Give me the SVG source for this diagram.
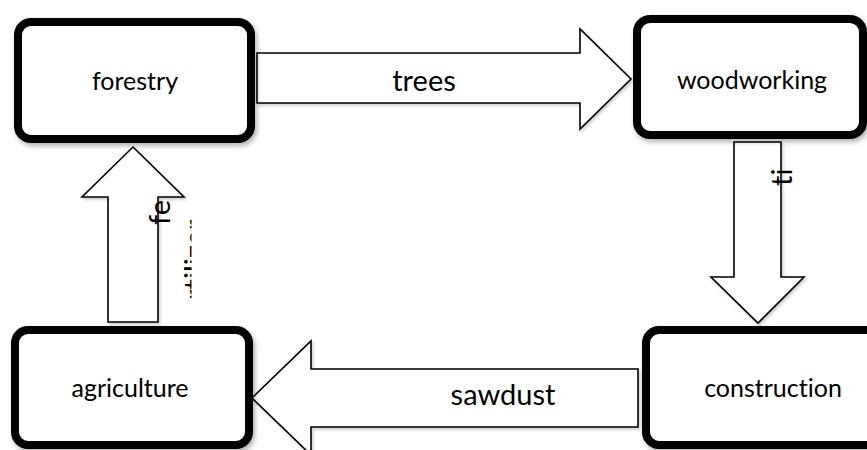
<svg xmlns="http://www.w3.org/2000/svg" width="867" height="450" viewBox="0 0 867 450">
<style>
.box{fill:#fff;stroke:#000;stroke-width:8}
.arrow{fill:#fff;stroke:#000;stroke-width:1.6;stroke-linejoin:miter}
.node{font-family:Lato,"Liberation Sans",sans-serif;font-size:25px;fill:#000;text-anchor:middle;font-variant-ligatures:none;font-feature-settings:"liga" 0,"clig" 0}
.lbl{font-family:Lato,"Liberation Sans",sans-serif;font-size:29px;fill:#000;font-variant-ligatures:none;font-feature-settings:"liga" 0,"clig" 0}
</style>
<defs>
<filter id="sh" x="-10%" y="-10%" width="130%" height="130%">
<feDropShadow dx="2" dy="3" stdDeviation="2.5" flood-color="#000" flood-opacity="0.3"/>
</filter>
<filter id="sha" x="-10%" y="-10%" width="130%" height="130%">
<feDropShadow dx="1.5" dy="2" stdDeviation="1.5" flood-color="#000" flood-opacity="0.2"/>
</filter>
<clipPath id="clipFert"><rect x="182" y="200" width="9.5" height="110"/></clipPath>
</defs>
<rect width="867" height="450" fill="#fff"/>
<g id="connectors">
<g id="c-trees">
<polygon class="arrow" filter="url(#sha)" points="257,53 580,53 580,29 631,79 580,129 580,103 257,103"/>
<text class="lbl" x="424" y="91" text-anchor="middle">trees</text>
</g>
<g id="c-timber">
<polygon class="arrow" filter="url(#sha)" points="734,142 781,142 781,277 804,277 758,323 711,277 734,277"/>
<text class="lbl" transform="translate(792,186) rotate(-90)">ti</text>
</g>
<g id="c-sawdust">
<polygon class="arrow" filter="url(#sha)" points="638,369 311,369 311,341 252,398 311,455 311,427 638,427"/>
<text class="lbl" x="503" y="405" text-anchor="middle">sawdust</text>
</g>
<g id="c-fertilizer">
<polygon class="arrow" filter="url(#sha)" points="108,322 158,322 158,197 184,197 133,147 82,197 108,197"/>
<text class="lbl" transform="translate(170,225) rotate(-90)">fe</text>
<g clip-path="url(#clipFert)">
<text class="lbl" transform="translate(205,300) rotate(-90)">rtilizer</text>
</g>
</g>
</g>
<g id="forestry">
<rect class="box" filter="url(#sh)" x="18" y="22" width="233" height="117" rx="13"/>
<text class="node" x="135" y="90">forestry</text>
</g>
<g id="woodworking">
<rect class="box" filter="url(#sh)" x="637" y="19" width="226" height="116" rx="13"/>
<text class="node" x="752" y="89">woodworking</text>
</g>
<g id="agriculture">
<rect class="box" filter="url(#sh)" x="15" y="330" width="234" height="115" rx="13"/>
<text class="node" x="130" y="397">agriculture</text>
</g>
<g id="construction">
<rect class="box" filter="url(#sh)" x="646" y="330" width="260" height="115" rx="13"/>
<text class="node" x="773" y="397">construction</text>
</g>
</svg>
